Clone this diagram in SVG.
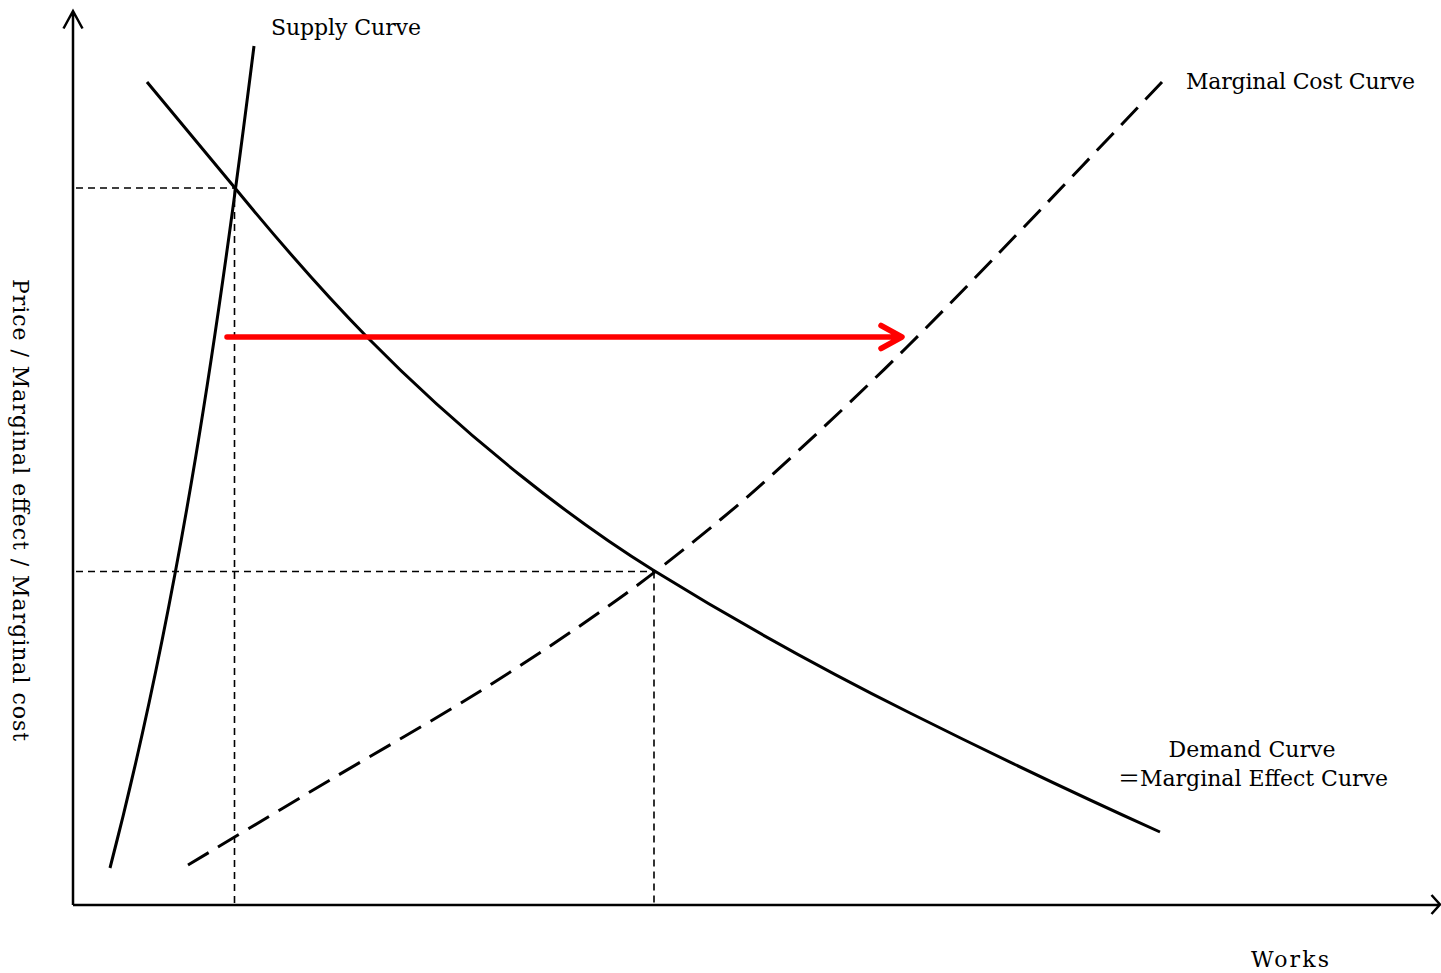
<svg xmlns="http://www.w3.org/2000/svg" width="1441" height="973" viewBox="0 0 1441 973">
<style>
.lbl{font-family:"DejaVu Serif","Noto Sans CJK JP",serif;font-size:22px;fill:#000}
.axis{fill:none;stroke:#000;stroke-width:2.5}
.curve{fill:none;stroke:#000;stroke-width:3}
.mc{fill:none;stroke:#000;stroke-width:3;stroke-dasharray:24 11}
.guide{fill:none;stroke:#000;stroke-width:1.6;stroke-dasharray:7 5}
.red{fill:none;stroke:#ff0000;stroke-width:5.5;stroke-linecap:round;stroke-linejoin:round}
</style>
<rect width="1441" height="973" fill="#fff"/>
<g id="axes">
<path class="axis" d="M73,905 V11 M63.5,28.5 L73,11 L82.5,28.5"/>
<path class="axis" d="M73,905 H1439 M1431.5,895 L1440,904.5 L1431.5,914"/>
</g>
<g id="guides">
<path class="guide" d="M76,188 H234.5 M234.5,188 V904"/>
<path class="guide" d="M76,571.5 H654 M654,571.5 V904"/>
</g>
<g id="supply-curve">
<path class="curve" d="M110,868 C180.2,598 220.25,316 254,46"/>
<text class="lbl" x="271" y="35" textLength="150">Supply Curve</text>
</g>
<g id="demand-curve">
<path class="curve" d="M147,82 C176.3,117.8 205.7,152.2 235,188 C279,241.7 323,292.1 367,337 C418,389 469,434.2 520,475 C564.3,510.5 608.7,542.5 653,570 C738.7,623.1 824.3,670.2 910,713 C993.3,754.7 1076.7,794.5 1160,832"/>
<text class="lbl" x="1252" y="757" text-anchor="middle" textLength="167">Demand Curve</text>
<text class="lbl" x="1253" y="786" text-anchor="middle" textLength="270">＝Marginal Effect Curve</text>
</g>
<g id="marginal-cost-curve">
<path class="mc" pathLength="1249" d="M188,865 C211.7,850.8 281,809.2 330,780 C379,750.8 434.2,720 482,690 C529.8,660 577.3,628.3 617,600 C656.7,571.7 690,544.7 720,520 C750,495.3 765.8,480.8 797,452 C828.2,423.2 869.3,384.3 907,347 C944.7,309.7 980.5,272.2 1023,228 C1065.5,183.8 1138.8,106.3 1162,82"/>
<text class="lbl" x="1186" y="89" textLength="229">Marginal Cost Curve</text>
</g>
<g id="connectors">
<path class="red" d="M227,337 H901 M881,325.5 L902,337 L881,348.5"/>
</g>
<g id="labels">
<text class="lbl" x="1251" y="967" textLength="78">Works</text>
<text class="lbl" transform="translate(13,279) rotate(90)" x="0" y="0" textLength="462">Price / Marginal effect / Marginal cost</text>
</g>
</svg>
